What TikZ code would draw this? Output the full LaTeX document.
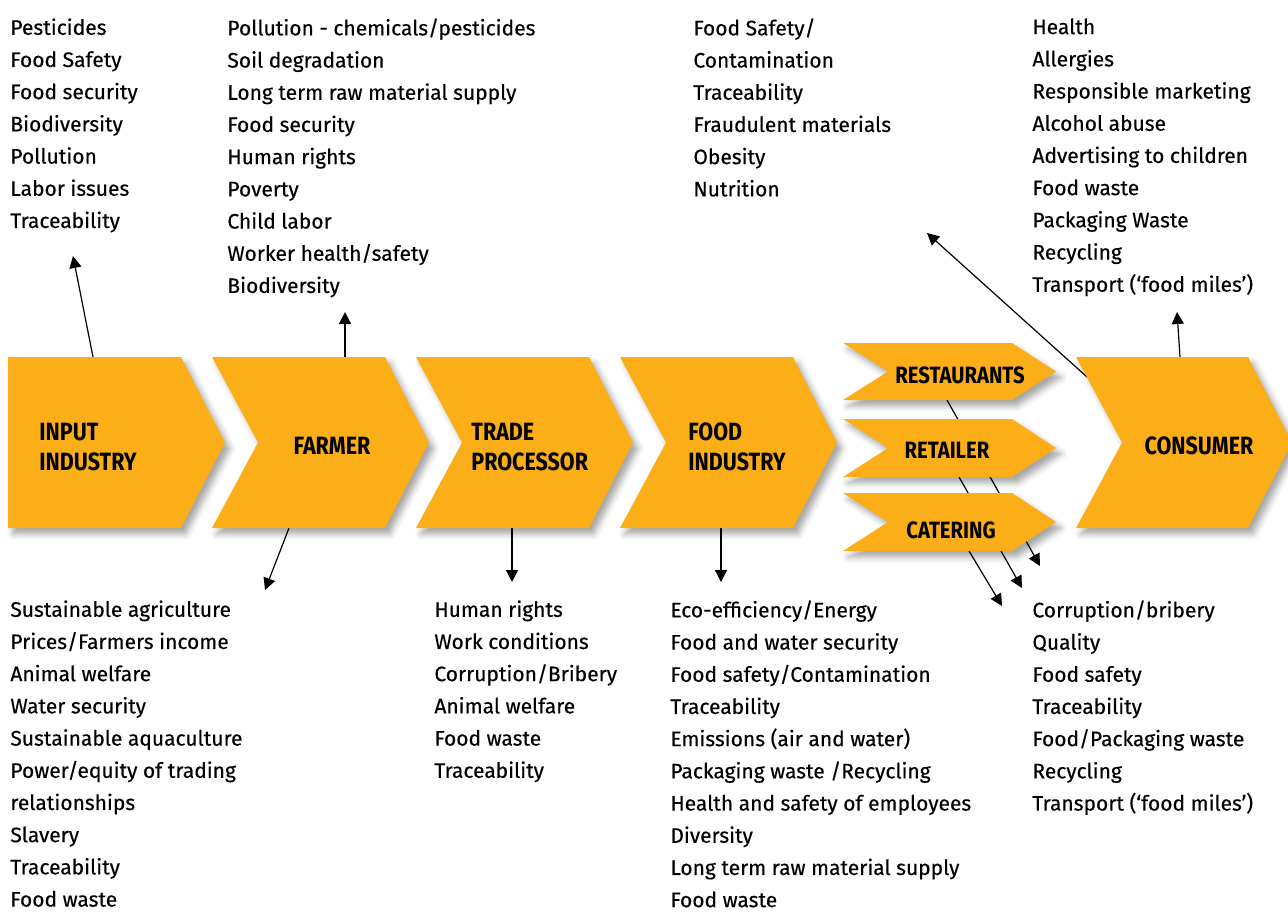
\documentclass[tikz,border=0pt]{standalone}
\usepackage{fontspec}
\setmainfont{Fira Sans}
\newfontfamily\chevfont[FakeStretch=0.86]{Fira Sans}
\newfontfamily\issuefont[FakeBold=0.35]{Fira Sans}
\usetikzlibrary{arrows.meta,shadows.blur}
\definecolor{chevorange}{HTML}{FBAE17}
\begin{document}
\begin{tikzpicture}[x=0.5pt,y=-0.5pt,
  chev/.style={fill=chevorange, blur shadow={shadow xshift=2.5pt, shadow yshift=-3pt, shadow blur radius=3pt, shadow opacity=35}},
  stage/.style={inner sep=0pt, align=left, font=\chevfont\bfseries\fontsize{12.5}{15}\selectfont},
  outlet/.style={stage, font=\chevfont\bfseries\fontsize{11.8}{15}\selectfont},
  issues/.style={anchor=north west, inner sep=0pt, align=left, font=\issuefont\fontsize{10.5}{16.1}\selectfont},
  arr/.style={line width=0.6pt, -{Triangle[length=6pt,width=6pt]}}]
\clip (0,0) rectangle (1288,911);
% arrows first, the chevrons hide them
\coordinate (inUp) at (93,357);
\coordinate (inUpEnd) at (73,256);
\coordinate (farmUp) at (345,357);
\coordinate (farmUpEnd) at (345,312);
\coordinate (consUp) at (1180,357);
\coordinate (consUpEnd) at (1177,312);
\coordinate (consLeft) at (1087,377);
\coordinate (consLeftEnd) at (927,233);
\coordinate (farmDown) at (289,528);
\coordinate (farmDownEnd) at (265,590);
\coordinate (tradeDown) at (512,528);
\coordinate (tradeDownEnd) at (512,582);
\coordinate (foodDown) at (721,528);
\coordinate (foodDownEnd) at (721,582);
\coordinate (restDown) at (947,400);
\coordinate (restDownEnd) at (1040,566);
\coordinate (retDown) at (959,477);
\coordinate (retDownEnd) at (1022,588);
\coordinate (catDown) at (969,551);
\coordinate (catDownEnd) at (1002,606);
\draw[arr] (inUp) -- (inUpEnd);
\draw[arr] (farmUp) -- (farmUpEnd);
\draw[arr] (consUp) -- (consUpEnd);
\draw[arr] (consLeft) -- (consLeftEnd);
\draw[arr] (farmDown) -- (farmDownEnd);
\draw[arr] (tradeDown) -- (tradeDownEnd);
\draw[arr] (foodDown) -- (foodDownEnd);
\draw[arr] (restDown) -- (restDownEnd);
\draw[arr] (retDown) -- (retDownEnd);
\draw[arr] (catDown) -- (catDownEnd);
% chevrons
\fill[chev] (8,357) -- (181,357) -- (225,442.5) -- (181,528) -- (8,528) -- cycle;
\fill[chev] (212,357) -- (385,357) -- (429,442.5) -- (385,528) -- (212,528) -- (258,442.5) -- cycle;
\fill[chev] (416,357) -- (589,357) -- (633,442.5) -- (589,528) -- (416,528) -- (462,442.5) -- cycle;
\fill[chev] (620,357) -- (793,357) -- (837,442.5) -- (793,528) -- (620,528) -- (666,442.5) -- cycle;
\fill[chev] (843,343) -- (1012,343) -- (1056,371.5) -- (1012,400) -- (843,400) -- (888,371.5) -- cycle;
\fill[chev] (843,419) -- (1012,419) -- (1056,448) -- (1012,477) -- (843,477) -- (888,448) -- cycle;
\fill[chev] (843,493) -- (1012,493) -- (1056,522) -- (1012,551) -- (843,551) -- (888,522) -- cycle;
\fill[chev] (1076,357) -- (1248,357) -- (1292,442.5) -- (1248,528) -- (1076,528) -- (1122,442.5) -- cycle;
% stage names
\node[stage, anchor=west] (input) at (39,447) {INPUT\\INDUSTRY};
\node[stage] (farmer) at (332,446) {FARMER};
\node[stage, anchor=west] (trade) at (471,447) {TRADE\\PROCESSOR};
\node[stage, anchor=west] (food) at (688,447) {FOOD\\INDUSTRY};
\node[outlet] (rest) at (960,375) {RESTAURANTS};
\node[outlet] (retail) at (947,450) {RETAILER};
\node[outlet] (cater) at (951,530) {CATERING};
\node[stage] (consumer) at (1199,446) {CONSUMER};
% issue lists
\node[issues] (inTop) at (10,18) {Pesticides\\Food Safety\\Food security\\Biodiversity\\Pollution\\Labor issues\\Traceability};
\node[issues] (farmTop) at (227,18) {Pollution - chemicals/pesticides\\Soil degradation\\Long term raw material supply\\Food security\\Human rights\\Poverty\\Child labor\\Worker health/safety\\Biodiversity};
\node[issues] (foodTop) at (693,18) {Food Safety/\\Contamination\\Traceability\\Fraudulent materials\\Obesity\\Nutrition};
\node[issues] (consTop) at (1032,18) {Health\\Allergies\\Responsible marketing\\Alcohol abuse\\Advertising to children\\Food waste\\Packaging Waste\\Recycling\\Transport (‘food miles’)};
\node[issues] (farmBot) at (10,600) {Sustainable agriculture\\Prices/Farmers income\\Animal welfare\\Water security\\Sustainable aquaculture\\Power/equity of trading\\relationships\\Slavery\\Traceability\\Food waste};
\node[issues] (tradeBot) at (434,600) {Human rights\\Work conditions\\Corruption/Bribery\\Animal welfare\\Food waste\\Traceability};
\node[issues] (foodBot) at (670,600) {Eco-efficiency/Energy\\Food and water security\\Food safety/Contamination\\Traceability\\Emissions (air and water)\\Packaging waste /Recycling\\Health and safety of employees\\Diversity\\Long term raw material supply\\Food waste};
\node[issues] (retBot) at (1032,600) {Corruption/bribery\\Quality\\Food safety\\Traceability\\Food/Packaging waste\\Recycling\\Transport (‘food miles’)};
\end{tikzpicture}
\end{document}
